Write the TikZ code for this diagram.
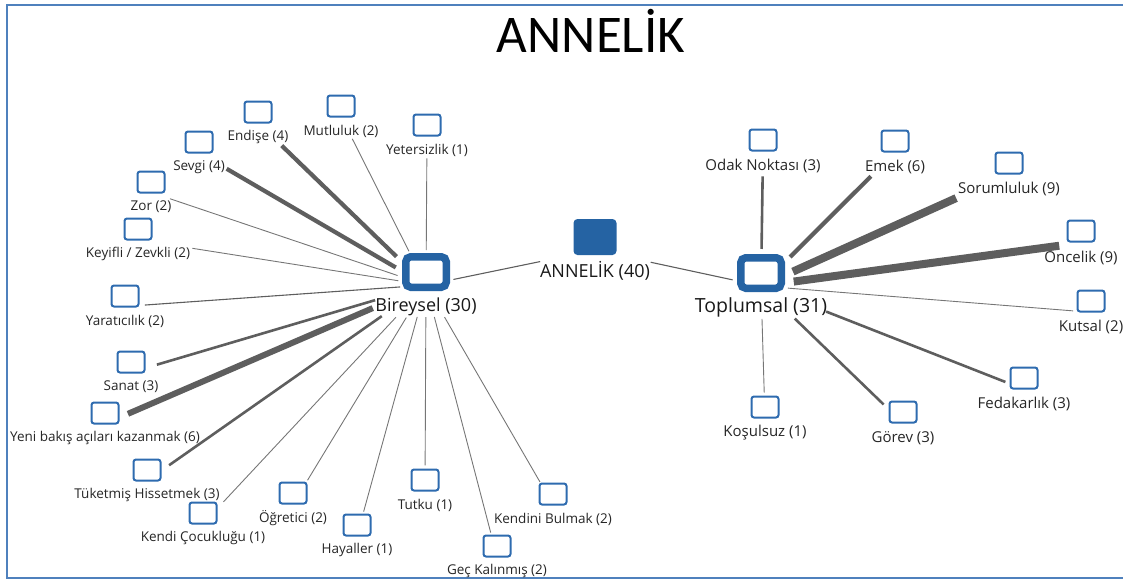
\documentclass[tikz,border=0pt]{standalone}
\usepackage{fontspec}
\setmainfont{Open Sans}
\newfontfamily\titlefont{Carlito}
\usetikzlibrary{fit}
\definecolor{frameblue}{HTML}{4F81BD}
\definecolor{nodeblue}{HTML}{2E6BAF}
\definecolor{hubblue}{HTML}{2563A3}
\definecolor{edgegray}{HTML}{5E5E5E}
\tikzset{
  leaf/.style={draw=nodeblue, line width=2pt, rounded corners=2.5pt,
    minimum width=27pt, minimum height=21pt, inner sep=0pt, fill=white},
  hub/.style={draw=hubblue, line width=7.5pt, rounded corners=5pt,
    minimum width=40.5pt, minimum height=30.5pt, inner sep=0pt, fill=white},
  core/.style={fill=hubblue, rounded corners=4pt,
    minimum width=43pt, minimum height=36pt, inner sep=0pt},
  lbl/.style={font=\fontsize{13.5}{15}\selectfont, inner sep=1pt, text=black!85},
  lblbig/.style={font=\fontsize{15}{17}\selectfont, inner sep=1pt, text=black!85},
  hublbl/.style={font=\fontsize{18}{20}\selectfont, inner sep=1pt, text=black!90},
  hublblbig/.style={font=\fontsize{19.5}{22}\selectfont, inner sep=1pt, text=black!90},
  grp/.style={inner sep=0pt},
  e1/.style={draw=edgegray!85, line width=0.9pt},
  e2/.style={draw=edgegray, line width=1.1pt},
  e3/.style={draw=edgegray, line width=2.6pt},
  e4/.style={draw=edgegray, line width=4.2pt},
  e6/.style={draw=edgegray, line width=6pt},
  e9/.style={draw=edgegray, line width=8pt},
  frame/.style={draw=frameblue, line width=2pt}
}
% leaf: [caption style], name, x, y (square centre), caption offset, caption
\newcommand\leafnode[6][lbl]{%
  \node[leaf] (#2s) at (#3,#4) {};
  \node[#1] (#2l) at (#3,#4+#5) {#6};
  \node[grp, fit=(#2s)(#2l)] (#2) {};
}
% connector between two groups, trimmed at both ends: style, from, to, trim from, trim to
\newcommand\edgeline[5]{%
  \draw[#1, shorten <=#4pt, shorten >=#5pt] (#2.center) -- (#3.center);
}
\begin{document}
\begin{tikzpicture}[x=1pt,y=-1pt]
\useasboundingbox (0,0) rectangle (1123,579);
% outer frame (open on the right)
\coordinate (fr1) at (1123,5);
\coordinate (fr2) at (7,5);
\coordinate (fr3) at (7,578);
\coordinate (fr4) at (1123,578);
\draw[frame] (fr1) -- (fr2) -- (fr3) -- (fr4);

\node[font=\titlefont\fontsize{53}{60}\selectfont, anchor=base] (title) at (591,52) {ANNELİK};

% hubs
\node[hub] (bs) at (426,272) {};
\node[hublbl] (bl) at (426,307) {Bireysel (30)};
\node[grp, fit=(bs)(bl)] (bir) {};
\node[core] (as) at (595,237) {};
\node[hublbl] (al) at (595,271) {ANNELİK (40)};
\node[grp, fit=(as)(al)] (ann) {};
\node[hub] (ts) at (761,273) {};
\node[hublblbig] (tl) at (761,307) {Toplumsal (31)};
\node[grp, fit=(ts)(tl)] (top) {};

% Bireysel leaves
\leafnode{endise}{258}{112}{25}{Endişe (4)}
\leafnode{mutlu}{341}{106}{25}{Mutluluk (2)}
\leafnode{yeter}{427}{125}{25}{Yetersizlik (1)}
\leafnode{sevgi}{199}{142}{25}{Sevgi (4)}
\leafnode{zor}{151}{182}{25}{Zor (2)}
\leafnode{keyif}{138}{229}{25}{Keyifli / Zevkli (2)}
\leafnode{yarat}{125}{296}{25}{Yaratıcılık (2)}
\leafnode{sanat}{131}{362}{25}{Sanat (3)}
\leafnode{yeni}{105}{413}{25}{Yeni bakış açıları kazanmak (6)}
\leafnode{tuket}{147}{470}{25}{Tüketmiş Hissetmek (3)}
\leafnode{kendi}{203}{513}{25}{Kendi Çocukluğu (1)}
\leafnode{ogret}{293}{493}{25}{Öğretici (2)}
\leafnode{hayal}{357}{525}{25}{Hayaller (1)}
\leafnode{tutku}{425}{480}{25}{Tutku (1)}
\leafnode{gec}{497}{546}{25}{Geç Kalınmış (2)}
\leafnode{bulmak}{553}{494}{25}{Kendini Bulmak (2)}

% Toplumsal leaves
\leafnode[lblbig]{odak}{763}{140}{26}{Odak Noktası (3)}
\leafnode[lblbig]{emek}{895}{141}{26}{Emek (6)}
\leafnode[lblbig]{sorum}{1009}{163}{26}{Sorumluluk (9)}
\leafnode[lblbig]{oncel}{1081}{231}{26}{Öncelik (9)}
\leafnode[lblbig]{kutsal}{1091}{301}{26}{Kutsal (2)}
\leafnode[lblbig]{fedak}{1024}{378}{26}{Fedakarlık (3)}
\leafnode[lblbig]{gorev}{903}{412}{26}{Görev (3)}
\leafnode[lblbig]{kosul}{765}{407}{26}{Koşulsuz (1)}

% connectors
\edgeline{e2}{bir}{ann}{28}{56}
\edgeline{e2}{ann}{top}{57}{29}

\edgeline{e4}{bir}{endise}{41}{33}
\edgeline{e1}{bir}{mutlu}{38}{25}
\edgeline{e1}{bir}{yeter}{35}{23}
\edgeline{e4}{bir}{sevgi}{35}{32}
\edgeline{e1}{bir}{zor}{30}{20}
\edgeline{e1}{bir}{keyif}{28}{55}
\edgeline{e2}{bir}{yarat}{26}{20}
\edgeline{e3}{bir}{sanat}{53}{27}
\edgeline{e6}{bir}{yeni}{58}{25}
\edgeline{e3}{bir}{tuket}{54}{27}
\edgeline{e1}{bir}{kendi}{44}{30}
\edgeline{e1}{bir}{ogret}{38}{28}
\edgeline{e1}{bir}{hayal}{33}{25}
\edgeline{e1}{bir}{tutku}{32}{25}
\edgeline{e1}{bir}{gec}{33}{25}
\edgeline{e1}{bir}{bulmak}{37}{26}

\edgeline{e3}{top}{odak}{37}{25}
\edgeline{e4}{top}{emek}{41}{34}
\edgeline{e9}{top}{sorum}{35}{58}
\edgeline{e9}{top}{oncel}{33}{22}
\edgeline{e1}{top}{kutsal}{27}{18}
\edgeline{e3}{top}{fedak}{70}{20}
\edgeline{e3}{top}{gorev}{47}{27}
\edgeline{e1}{top}{kosul}{33}{26}
\end{tikzpicture}
\end{document}
